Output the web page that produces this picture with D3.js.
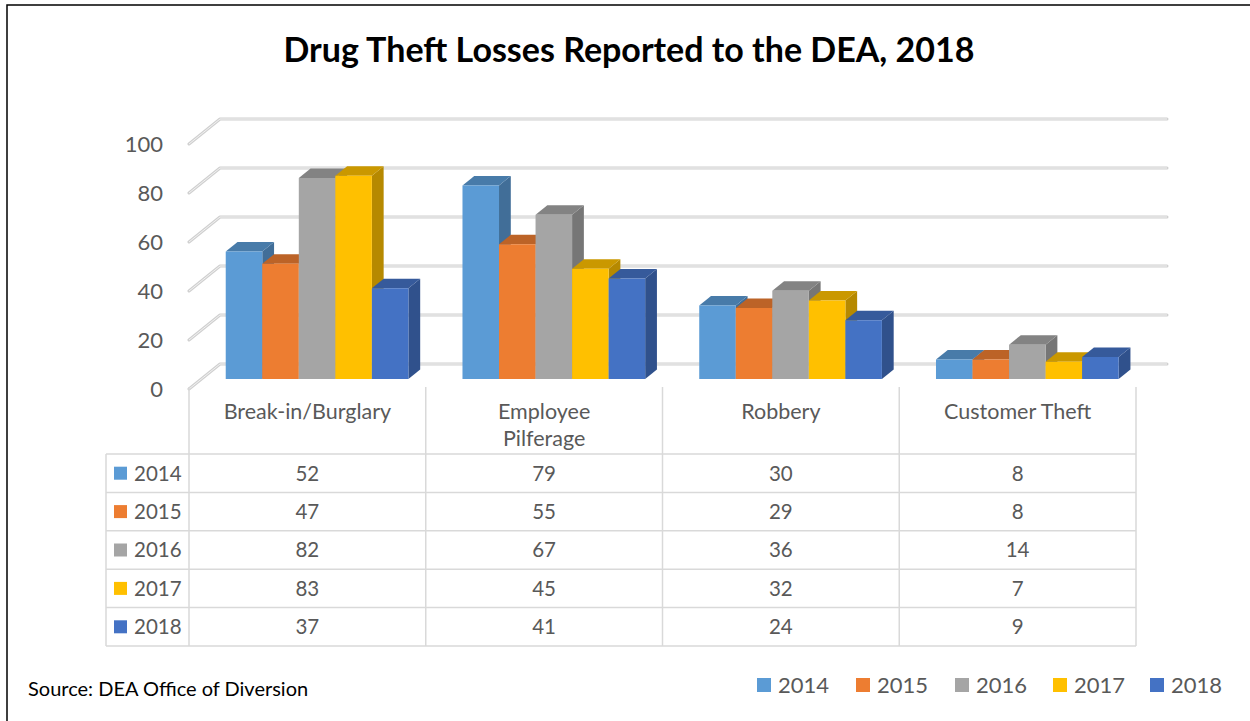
<!DOCTYPE html>
<html>
<head>
<meta charset="utf-8">
<script src="https://cdn.jsdelivr.net/npm/d3@7"></script>
<style>
  body { margin: 0; background: #fff; }
  text { font-family: Lato, "Open Sans", sans-serif; }
</style>
</head>
<body>
<div id="chart"></div>
<script>
const categories = ['Break-in/Burglary', 'Employee Pilferage', 'Robbery', 'Customer Theft'];
const categoryLines = [['Break-in/Burglary'], ['Employee', 'Pilferage'], ['Robbery'], ['Customer Theft']];
const years = ['2014', '2015', '2016', '2017', '2018'];
const values2014 = [52, 79, 30, 8];
const values2015 = [47, 55, 29, 8];
const values2016 = [82, 67, 36, 14];
const values2017 = [83, 45, 32, 7];
const values2018 = [37, 41, 24, 9];
const yTicks = [0, 20, 40, 60, 80, 100];
const colors = ['#5B9BD5', '#ED7D31', '#A5A5A5', '#FFC000', '#4472C4'];

const series = [values2014, values2015, values2016, values2017, values2018];

const width = 1250;
const height = 721;

// 3d projection: z = 0 front, z = 1 back wall
const baseY = 389;
const depthX = 31, depthY = 25;
const z0 = 0.4, z1 = 0.78;

const svg = d3.select('#chart').append('svg')
    .attr('width', width)
    .attr('height', height);

svg.append('rect')
    .attr('x', 7).attr('y', 5)
    .attr('width', 1260).attr('height', 730)
    .attr('fill', '#fff')
    .attr('stroke', '#000')
    .attr('stroke-width', 1.5);

svg.append('text')
    .attr('x', 629).attr('y', 62)
    .attr('text-anchor', 'middle')
    .style('font-size', '34px')
    .style('font-weight', 'bold')
    .attr('fill', '#000')
    .text('Drug Theft Losses Reported to the DEA, 2018');

let x = d3.scaleBand()
    .domain(categories)
    .range([189, 1136])
    .padding(0);

let xYear = d3.scaleBand()
    .domain(years)
    .range([0, x.bandwidth()])
    .paddingInner(0)
    .paddingOuter(0.74)
    .align(0.45);

let y = d3.scaleLinear()
    .domain([0, 100])
    .range([0, 245]);

function px(xv, z) { return xv + z * depthX; }
function py(v, z) { return baseY - y(v) - z * depthY; }

// gridlines: back wall + left diagonal
let grid = svg.append('g');
yTicks.forEach(function(t) {
    let pts = [[px(189, 0), py(t, 0)], [px(189, 1), py(t, 1)], [px(1136, 1), py(t, 1)]];
    grid.append('path')
        .attr('d', d3.line()(pts))
        .attr('fill', 'none')
        .attr('stroke', '#d0d0d0')
        .attr('stroke-width', 3)
        .attr('stroke-linejoin', 'round')
        .attr('stroke-linecap', 'round');
    grid.append('path')
        .attr('d', d3.line()(pts))
        .attr('fill', 'none')
        .attr('stroke', '#f2f2f2')
        .attr('stroke-width', 1);
});

svg.append('g').selectAll('text')
    .data(yTicks)
    .join('text')
    .attr('x', 163)
    .attr('y', d => py(d, 0))
    .attr('dy', '0.36em')
    .attr('text-anchor', 'end')
    .style('font-size', '22px')
    .attr('fill', '#595959')
    .text(d => d);

// bars
let bars = svg.append('g');
categories.forEach(function(cat, ci) {
    years.forEach(function(yr, si) {
        let v = series[si][ci];
        let c = d3.color(colors[si]);
        let xl = x(cat) + xYear(yr);
        let xr = xl + xYear.bandwidth();
        let front = [[px(xl, z0), py(0, z0)], [px(xr, z0), py(0, z0)], [px(xr, z0), py(v, z0)], [px(xl, z0), py(v, z0)]];
        let side = [[px(xr, z0), py(0, z0)], [px(xr, z1), py(0, z1)], [px(xr, z1), py(v, z1)], [px(xr, z0), py(v, z0)]];
        let top = [[px(xl, z0), py(v, z0)], [px(xr, z0), py(v, z0)], [px(xr, z1), py(v, z1)], [px(xl, z1), py(v, z1)]];
        bars.append('path').attr('d', d3.line()(side) + 'Z')
            .attr('fill', c.darker(0.95));
        bars.append('path').attr('d', d3.line()(top) + 'Z')
            .attr('fill', c.darker(0.65));
        bars.append('path').attr('d', d3.line()(front) + 'Z')
            .attr('fill', c);
    });
});

// data table
const tableTop = 387, headerBottom = 454, rowH = 38.4, tableLeft = 106;
let table = svg.append('g')
    .attr('stroke', '#d9d9d9')
    .attr('stroke-width', 1.5);

x.domain().forEach(function(cat) {
    table.append('line')
        .attr('x1', x(cat)).attr('x2', x(cat))
        .attr('y1', tableTop).attr('y2', headerBottom + rowH * years.length);
});
table.append('line')
    .attr('x1', 1136).attr('x2', 1136)
    .attr('y1', tableTop).attr('y2', headerBottom + rowH * years.length);
table.append('line')
    .attr('x1', tableLeft).attr('x2', tableLeft)
    .attr('y1', headerBottom).attr('y2', headerBottom + rowH * years.length);
for (let i = 0; i <= years.length; i++) {
    table.append('line')
        .attr('x1', tableLeft).attr('x2', 1136)
        .attr('y1', headerBottom + rowH * i).attr('y2', headerBottom + rowH * i);
}

let headers = svg.append('g').selectAll('text')
    .data(categories)
    .join('text')
    .attr('x', d => x(d) + x.bandwidth() / 2)
    .attr('y', 411)
    .attr('text-anchor', 'middle')
    .style('font-size', '21.5px')
    .attr('fill', '#595959');
headers.each(function(d, i) {
    d3.select(this).selectAll('tspan')
        .data(categoryLines[i])
        .join('tspan')
        .attr('x', x(d) + x.bandwidth() / 2)
        .attr('dy', (t, j) => j === 0 ? '0.36em' : '1.25em')
        .text(t => t);
});

years.forEach(function(yr, si) {
    let cy = headerBottom + rowH * si + rowH / 2;
    svg.append('rect')
        .attr('x', 114).attr('y', cy - 6.5)
        .attr('width', 13).attr('height', 13)
        .attr('fill', colors[si]);
    svg.append('text')
        .attr('x', 134).attr('y', cy)
        .attr('dy', '0.36em')
        .style('font-size', '20.5px')
        .attr('fill', '#595959')
        .text(yr);
    svg.append('g').selectAll('text')
        .data(categories)
        .join('text')
        .attr('x', d => x(d) + x.bandwidth() / 2)
        .attr('y', cy)
        .attr('dy', '0.36em')
        .attr('text-anchor', 'middle')
        .style('font-size', '20.5px')
        .attr('fill', '#595959')
        .text((d, ci) => series[si][ci]);
});

// source note
svg.append('text')
    .attr('x', 28).attr('y', 689)
    .attr('dy', '0.36em')
    .style('font-size', '20px')
    .attr('fill', '#000')
    .text('Source: DEA Office of Diversion');

// bottom legend
const legendX = [757, 856, 955, 1053, 1150];
let legend = svg.append('g');
years.forEach(function(yr, si) {
    legend.append('rect')
        .attr('x', legendX[si]).attr('y', 678)
        .attr('width', 14).attr('height', 14)
        .attr('fill', colors[si]);
    legend.append('text')
        .attr('x', legendX[si] + 21).attr('y', 685)
        .attr('dy', '0.36em')
        .style('font-size', '22px')
        .attr('fill', '#595959')
        .text(yr);
});
</script>
</body>
</html>
